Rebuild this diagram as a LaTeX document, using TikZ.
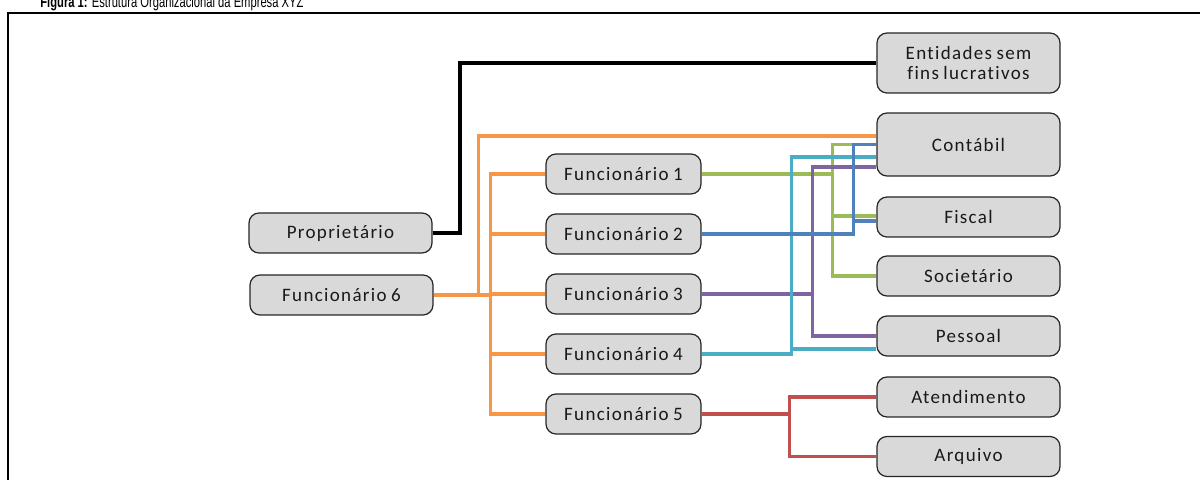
\documentclass[tikz,border=0pt]{standalone}
\usepackage{fontspec}
\setmainfont{Carlito}[LetterSpace=7, WordSpace=0.8, Ligatures={NoCommon}]
\newfontfamily\titlefont{Liberation Sans}[FakeStretch=0.7]
\definecolor{boxgray}{HTML}{D9D9D9}
\definecolor{cOr}{HTML}{F79646}
\definecolor{cGr}{HTML}{9BBB59}
\definecolor{cBl}{HTML}{4F81BD}
\definecolor{cPu}{HTML}{8064A2}
\definecolor{cCy}{HTML}{4BACC6}
\definecolor{cRd}{HTML}{C0504D}
\begin{document}
\begin{tikzpicture}[x=0.5pt,y=-0.5pt,
  box/.style={draw=black!85, line width=0.6pt, fill=boxgray, rounded corners=5pt,
    inner sep=0pt, font=\fontsize{9.5}{10}\selectfont, text=black!90, align=center},
  wide/.style={box, minimum width=91.5pt, minimum height=20pt},
  func/.style={box, minimum width=77.5pt, minimum height=20pt},
  con/.style={line width=1.7pt},
]
\useasboundingbox (0,0) rectangle (1200,480);
\clip (0,0) rectangle (1200,480);

% title and frame
\node[anchor=base west, inner sep=0pt, font=\titlefont\fontsize{8}{9}\selectfont] (title) at (40,7.5)
  {\textbf{Figura 1:} Estrutura Organizacional da Empresa XYZ};
\draw[line width=1pt] (8,500) -- (8,13.5) -- (1220,13.5);

% nodes
\node[wide] (prop) at (340.5,233) {Proprietário};
\node[wide] (f6) at (341.5,295) {Funcionário 6};
\node[func] (f1) at (623.5,174) {Funcionário 1};
\node[func] (f2) at (623.5,234) {Funcionário 2};
\node[func] (f3) at (623.5,294) {Funcionário 3};
\node[func] (f4) at (623.5,354) {Funcionário 4};
\node[func] (f5) at (623.5,414) {Funcionário 5};
\node[wide, minimum height=30pt] (ent) at (968.5,63) {Entidades sem\\fins lucrativos};
\node[wide, minimum height=31.5pt] (cont) at (968.5,144.5) {Contábil};
\node[wide] (fisc) at (968.5,217) {Fiscal};
\node[wide] (soc) at (968.5,276) {Societário};
\node[wide] (pess) at (968.5,336) {Pessoal};
\node[wide] (aten) at (968.5,397) {Atendimento};
\node[wide] (arq) at (968.5,456.5) {Arquivo};

% junctions
\path (prop.east) ++(27,0) coordinate (kj);
\path (f6.east) ++(45,0) coordinate (oa);
\path (f6.east) ++(57,0) coordinate (oj);
\path (f1.east) ++(131,0) coordinate (gj);
\path (f2.east) ++(152,0) coordinate (bj);
\path (f3.east) ++(111,0) coordinate (pj);
\path (f4.east) ++(90,0) coordinate (cj);
\path (f5.east) ++(88,0) coordinate (rj);

% black
\draw[line width=2.1pt] (prop.east) -- (kj) |- (ent.west);

% orange
\draw[con, cOr] (f6.east) -- (oa) |- ([yshift=4.25pt]cont.west);
\foreach \n in {f1,f2,f3,f4,f5}
  \draw[con, cOr] (f6.east) -- (oj) |- (\n.west);

% green
\draw[con, cGr] (f1.east) -- (gj) |- (cont.west);
\draw[con, cGr] (f1.east) -- (gj) |- ([yshift=0.5pt]fisc.west);
\draw[con, cGr] (f1.east) -- (gj) |- (soc.west);

% purple
\draw[con, cPu] (f3.east) -- (pj) |- ([yshift=-11.25pt]cont.west);
\draw[con, cPu] (f3.east) -- (pj) |- (pess.west);

% cyan
\draw[con, cCy] (f4.east) -- (cj) |- ([yshift=-6.25pt]cont.west);
\draw[con, cCy] (f4.east) -- (cj) |- ([yshift=-6.5pt]pess.west);

% blue
\draw[con, cBl] (f2.east) -- (bj) |- (cont.west);
\draw[con, cBl] (f2.east) -- (bj) |- ([yshift=-2pt]fisc.west);

% red
\draw[con, cRd] (f5.east) -- (rj) |- (aten.west);
\draw[con, cRd] (f5.east) -- (rj) |- (arq.west);
\end{tikzpicture}
\end{document}
